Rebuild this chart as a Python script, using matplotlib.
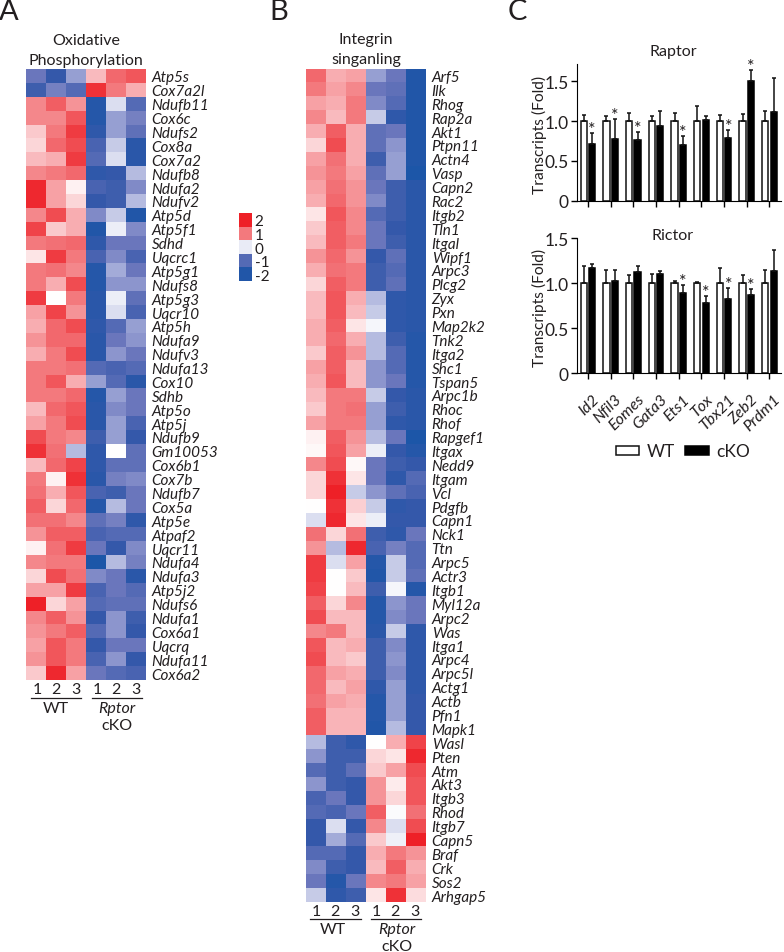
import numpy as np
from matplotlib import pyplot as plt
from matplotlib.colors import LinearSegmentedColormap, Normalize
from matplotlib.transforms import ScaledTranslation

plt.rcParams['font.family'] = ['Lato', 'DejaVu Sans']

# panel A
genes_a = ['Atp5s','Cox7a2l','Ndufb11','Cox6c','Ndufs2','Cox8a','Cox7a2','Ndufb8','Ndufa2','Ndufv2','Atp5d',
           'Atp5f1','Sdhd','Uqcrc1','Atp5g1','Ndufs8','Atp5g3','Uqcr10','Atp5h','Ndufa9','Ndufv3','Ndufa13',
           'Cox10','Sdhb','Atp5o','Atp5j','Ndufb9','Gm10053','Cox6b1','Cox7b','Ndufb7','Cox5a','Atp5e','Atpaf2',
           'Uqcr11','Ndufa4','Ndufa3','Atp5j2','Ndufs6','Ndufa1','Cox6a1','Uqcrq','Ndufa11','Cox6a2']
vals_a = [
    [-1.0,-1.5,-0.6,0.5,1.2,1.4],[-1.4,-0.9,-1.2,1.8,1.0,0.6],[0.9,1.3,0.8,-1.8,-0.2,-1.2],
    [0.9,0.9,1.4,-1.8,-0.6,-0.9],[0.4,1.0,1.7,-1.6,-0.6,-1.1],[0.3,1.2,1.5,-1.3,-0.3,-1.7],
    [0.5,0.6,1.7,-1.2,-0.2,-1.7],[0.9,1.0,1.2,-1.6,-1.5,-0.4],[1.9,0.7,0.1,-1.3,-1.4,-0.8],
    [1.9,0.7,0.3,-1.5,-1.4,-0.4],[0.9,1.5,0.6,-0.8,-0.3,-1.9],[1.6,0.4,0.6,-1.9,-0.1,-0.8],
    [1.0,1.1,1.2,-1.6,-1.0,-1.0],[0.2,1.7,1.0,-1.3,-0.8,-1.3],[1.0,1.1,0.9,-1.8,-0.5,-1.0],
    [1.0,0.6,1.5,-1.8,-0.7,-0.7],[1.7,0.0,1.0,-1.7,-0.1,-1.1],[0.7,1.6,0.8,-1.7,-0.2,-1.3],
    [0.6,1.2,1.5,-1.6,-1.2,-0.6],[0.8,1.2,1.2,-1.7,-1.0,-0.7],[0.6,1.0,1.5,-1.7,-0.7,-1.0],
    [1.0,1.0,1.1,-1.2,-1.3,-1.2],[1.0,1.4,0.6,-0.6,-1.2,-1.7],[1.0,1.0,1.2,-1.8,-0.6,-1.0],
    [0.5,1.2,1.4,-1.7,-0.8,-1.0],[0.7,1.0,1.5,-1.7,-0.6,-1.3],[1.5,1.0,0.9,-1.4,-0.6,-1.5],
    [1.8,1.1,-0.4,-1.6,0.0,-1.1],[0.5,1.2,1.6,-1.6,-1.1,-1.1],[1.0,0.1,1.8,-1.7,-0.9,-0.8],
    [1.1,0.6,1.4,-1.3,-1.4,-1.0],[1.3,0.3,1.2,-1.8,-0.4,-1.0],[1.1,1.1,0.9,-1.1,-0.9,-1.6],
    [0.8,1.3,1.3,-1.3,-1.2,-1.2],[0.1,1.1,1.7,-1.0,-1.5,-0.8],[0.9,1.0,1.0,-2.0,-0.4,-0.9],
    [0.3,1.5,1.1,-0.8,-1.0,-1.7],[0.7,0.7,1.7,-1.3,-1.0,-1.2],[2.0,0.3,0.7,-1.2,-1.1,-1.1],
    [0.9,1.3,0.8,-1.5,-0.7,-1.4],[0.8,1.0,1.3,-1.2,-0.7,-1.5],[0.7,1.4,1.0,-1.5,-1.0,-1.0],
    [0.8,1.4,1.0,-1.3,-0.7,-1.5],[0.4,1.9,0.7,-1.0,-1.2,-1.3]]

# panel B
genes_b = ['Arf5','Ilk','Rhog','Rap2a','Akt1','Ptpn11','Actn4','Vasp','Capn2','Rac2','Itgb2','Tln1','Itgal','Wipf1',
           'Arpc3','Plcg2','Zyx','Pxn','Map2k2','Tnk2','Itga2','Shc1','Tspan5','Arpc1b','Rhoc','Rhof','Rapgef1',
           'Itgax','Nedd9','Itgam','Vcl','Pdgfb','Capn1','Nck1','Ttn','Arpc5','Actr3','Itgb1','Myl12a','Arpc2',
           'Was','Itga1','Arpc4','Arpc5l','Actg1','Actb','Pfn1','Mapk1','Wasl','Pten','Atm','Akt3','Itgb3','Rhod',
           'Itgb7','Capn5','Braf','Crk','Sos2','Arhgap5']
vals_b = [
    [1.2,0.6,0.7,-0.6,-1.0,-1.9],[1.0,0.7,0.9,-1.0,-1.1,-1.9],[0.7,0.6,1.0,-0.8,-1.2,-1.9],
    [0.9,0.5,1.0,-0.3,-1.6,-1.9],[0.6,1.3,0.6,-1.1,-1.0,-1.9],[0.3,1.5,0.6,-1.1,-0.7,-1.9],
    [0.7,1.1,0.6,-1.4,-0.6,-1.9],[0.8,1.0,0.7,-1.1,-0.6,-2.0],[0.7,1.1,0.8,-1.0,-1.4,-1.7],
    [0.6,1.2,0.8,-0.8,-1.4,-1.7],[0.2,1.4,0.9,-1.2,-1.4,-1.7],[0.4,1.3,0.9,-1.0,-1.5,-1.7],
    [0.5,1.3,1.0,-1.0,-1.4,-1.7],[0.8,1.2,0.8,-1.5,-1.1,-1.7],[0.6,1.1,1.0,-1.4,-1.2,-1.7],
    [0.3,1.3,1.0,-1.4,-1.1,-1.7],[0.5,1.4,0.6,-0.4,-1.6,-1.7],[0.5,1.4,0.5,-0.3,-1.6,-1.7],
    [0.6,1.3,0.2,-0.05,-1.6,-1.7],[0.6,1.2,0.6,-0.4,-1.4,-1.8],[0.4,1.3,0.8,-0.4,-1.2,-1.8],
    [0.7,1.3,0.5,-0.7,-1.2,-1.8],[0.6,1.4,0.5,-0.7,-1.0,-1.8],[0.5,1.0,1.0,-0.3,-1.5,-1.7],
    [0.4,1.0,1.1,-0.6,-1.4,-1.7],[0.7,1.0,1.0,-0.6,-1.6,-1.7],[0.1,1.3,0.8,-0.4,-1.0,-2.0],
    [0.05,1.4,0.7,-0.1,-1.5,-1.8],[0.9,1.5,0.05,-1.0,-1.4,-1.5],[0.3,1.8,0.2,-1.0,-1.6,-1.2],
    [0.3,2.0,-0.3,-0.7,-1.1,-1.3],[0.0,1.8,0.35,-0.3,-1.6,-1.5],[-0.2,1.9,0.2,-0.1,-1.5,-1.5],
    [1.1,0.3,1.1,-1.4,-1.6,-1.0],[0.8,-0.4,1.9,-1.3,-0.9,-1.2],[1.7,-0.2,0.7,-1.8,-0.3,-1.2],
    [1.7,0.0,0.4,-1.9,-0.3,-1.1],[1.6,0.0,0.5,-1.4,-0.05,-1.8],[1.3,0.3,0.9,-1.8,-0.7,-1.0],
    [1.5,0.5,0.5,-1.8,-0.8,-1.0],[0.9,1.0,0.5,-1.7,-0.3,-1.6],[1.4,0.5,0.6,-1.4,-0.8,-1.6],
    [1.5,0.5,0.4,-1.4,-0.7,-1.6],[1.2,0.7,0.6,-1.4,-0.8,-1.6],[1.2,0.5,0.7,-1.6,-0.6,-1.6],
    [1.1,0.7,0.6,-1.8,-0.6,-1.5],[1.3,0.55,0.55,-1.8,-0.6,-1.5],[1.3,0.55,0.55,-1.9,-0.4,-1.5],
    [-0.4,-1.4,-1.6,0.0,0.6,1.6],[-0.7,-1.4,-1.4,0.3,0.2,1.9],[-1.2,-1.4,-1.1,0.4,0.7,1.5],
    [-0.7,-1.4,-1.5,0.8,0.15,1.4],[-1.3,-1.0,-1.5,0.8,0.3,1.4],[-1.2,-1.3,-1.0,1.3,-0.02,1.1],
    [-1.5,-0.2,-1.5,0.9,-0.2,1.5],[-1.5,-0.5,-1.2,0.4,-0.08,2.0],[-1.2,-1.2,-1.5,0.6,1.0,0.8],
    [-0.8,-1.4,-1.5,0.5,1.3,0.6],[-1.0,-1.8,-1.0,0.9,1.0,0.7],[-0.3,-1.6,-1.4,0.2,1.8,0.25]]

scale_vals = [2, 1, -0.12, -1.2, -1.9]
scale_labels = ['2', '1', '0', '-1', '-2']

# panel C
tf_names = ['Id2','Nfil3','Eomes','Gata3','Ets1','Tox','Tbx21','Zeb2','Prdm1']
wt_mean = [1, 1, 1, 1, 1, 1, 1, 1, 1]
raptor_wt_top = [1.08,1.06,1.10,1.07,1.10,1.19,1.08,1.09,1.13]
raptor_ko = [0.71,0.77,0.76,0.94,0.70,1.01,0.79,1.50,1.12]
raptor_ko_top = [0.85,1.03,0.86,1.13,0.81,1.06,0.89,1.64,1.54]
raptor_stars = [0,1,2,4,6,7]
rictor_wt_top = [1.19,1.15,1.09,1.10,1.03,1.02,1.17,1.09,1.15]
rictor_ko = [1.17,1.03,1.13,1.10,0.89,0.78,0.83,0.87,1.14]
rictor_ko_top = [1.21,1.15,1.19,1.14,0.98,0.86,0.95,0.94,1.37]
rictor_stars = [4,5,6,7]

W, H = 784, 953
fig = plt.figure(figsize=(W/100, H/100), dpi=100)

cmap = LinearSegmentedColormap.from_list('rwb', [
    (0.0, '#1c56a8'), (0.125, '#3458aa'), (0.25, '#6a76bc'), (0.375, '#a2aad8'), (0.5, '#ffffff'),
    (0.65, '#f8aeb2'), (0.75, '#f37a7e'), (1.0, '#ee2027')])
norm = Normalize(-2, 2)


def px_axes(x0, y0, x1, y1):
    return fig.add_axes([x0/W, 1-y1/H, (x1-x0)/W, (y1-y0)/H])


def txt(x, y, s, size=11.5, **kw):
    kw.setdefault('ha', 'center')
    kw.setdefault('va', 'center')
    kw.setdefault('color', '#231f20')
    fig.text(x/W, 1-y/H, s, fontsize=size, **kw)


def heat(box, genes, vals):
    ax = px_axes(*box)
    ax.pcolormesh(np.array(vals), cmap=cmap, norm=norm)
    ax.invert_yaxis()
    ax.set_xticks([])
    ax.yaxis.tick_right()
    ax.set_yticks(np.arange(len(genes))+0.5)
    ax.set_yticklabels(genes, style='italic', fontsize=11, color='#231f20')
    ax.tick_params(axis='y', length=0, pad=4)
    for s in ax.spines.values():
        s.set_visible(False)
    return ax


def sample_labels(xs, y_num, line1, line2, y_line, y_wt, x_wt, x_ko, y_ko2):
    for x, s in zip(xs, ['1','2','3','1','2','3']):
        txt(x, y_num, s, size=11.5)
    fig.add_artist(plt.Line2D([line1[0]/W, line1[1]/W], [1-y_line/H]*2, color='#231f20', lw=0.9))
    fig.add_artist(plt.Line2D([line2[0]/W, line2[1]/W], [1-y_line/H]*2, color='#231f20', lw=0.9))
    txt(x_wt, y_wt, 'WT', size=11.5)
    txt(x_ko, y_wt, 'Rptor', size=11.5, style='italic')
    txt(x_ko, y_ko2, 'cKO', size=11.5)


heat((26, 70, 146, 681), genes_a, vals_a)
heat((306, 69.5, 426, 903), genes_b, vals_b)

sample_labels([37,56,76,97,116,136], 690, (31,81), (92,142), 699, 709, 56, 117, 726)
sample_labels([316,335,355,376,395,415], 912, (310,361), (371,421), 920, 930, 333, 397, 947)

txt(86, 41, 'Oxidative')
txt(86, 61, 'Phosphorylation')
txt(366, 40, 'Integrin')
txt(366, 60, 'singanling')
txt(9, 12, 'A', size=21)
txt(279, 12, 'B', size=21)
txt(517, 12, 'C', size=21)

# colour scale
ax = px_axes(239, 214, 252, 282)
ax.pcolormesh(np.array(scale_vals).reshape(-1, 1), cmap=cmap, norm=norm)
ax.invert_yaxis()
ax.set_xticks([])
ax.yaxis.tick_right()
ax.set_yticks(np.arange(5)+0.5)
ax.set_yticklabels(scale_labels, fontsize=11, color='#231f20')
ax.tick_params(axis='y', length=0, pad=2)
for s in ax.spines.values():
    s.set_visible(False)


def bars(box, ymax, ko, wt_top, ko_top, stars, yticks):
    ax = px_axes(*box)
    x = np.arange(len(ko))
    off, w = 0.185, 0.27
    wt_err = np.array(wt_top)-np.array(wt_mean)
    ko_err = np.array(ko_top)-np.array(ko)
    ax.bar(x-off, wt_mean, w, color='white', edgecolor='#111111', lw=1.1,
           yerr=[np.zeros(9), wt_err], ecolor='#111111', error_kw=dict(lw=1.1, capsize=1.5, capthick=1.1))
    ax.bar(x+off, ko, w, color='black', edgecolor='black', lw=1.1,
           yerr=[np.zeros(9), ko_err], ecolor='#111111', error_kw=dict(lw=1.1, capsize=1.5, capthick=1.1))
    for i in stars:
        ax.annotate('*', (x[i]+off, ko_top[i]), xytext=(0, -3), textcoords='offset points',
                    ha='center', va='bottom', fontsize=13, color='#231f20')
    ax.set_xlim(-0.485, 8.51)
    ax.set_ylim(0, ymax)
    ax.set_xticks(x)
    ax.set_yticks(yticks)
    ax.set_yticklabels(['0', '0.5', '1.0', '1.5'], fontsize=12.5, color='#231f20')
    ax.tick_params(axis='both', length=4, width=1, pad=2)
    ax.spines['top'].set_visible(False)
    ax.spines['right'].set_visible(False)
    ax.patch.set_visible(False)
    return ax


ax1 = bars((577, 65, 781, 201.7), 1.717, raptor_ko, raptor_wt_top, raptor_ko_top, raptor_stars, [0, 0.5, 1, 1.5])
ax1.set_xticklabels([])
ax2 = bars((577, 239.3, 781, 374.3), 1.5, rictor_ko, rictor_wt_top, rictor_ko_top, rictor_stars, [0, 0.5, 1, 1.5])
ax2.set_xticklabels(tf_names, rotation=45, ha='right', rotation_mode='anchor', style='italic',
                    fontsize=11.5, color='#231f20')
shift = ScaledTranslation(0.04, -0.1, fig.dpi_scale_trans)
for lab in ax2.get_xticklabels():
    lab.set_transform(lab.get_transform() + shift)

txt(673, 52, 'Raptor')
txt(673, 236, 'Rictor')
txt(539, 135, 'Transcripts (Fold)', size=11.2, rotation=90)
txt(539, 308, 'Transcripts (Fold)', size=11.2, rotation=90)

# legend for bars
ax = px_axes(0, 0, W, H)
ax.set_xlim(0, W)
ax.set_ylim(H, 0)
ax.axis('off')
ax.add_patch(plt.Rectangle((616, 447), 23, 9, fc='white', ec='#111111', lw=1.1))
ax.add_patch(plt.Rectangle((685, 447), 24, 9, fc='black', ec='black', lw=1.1))
txt(647, 452, 'WT', size=12.5, ha='left')
txt(716, 452, 'cKO', size=12.5, ha='left')

fig.savefig('out.png', dpi=100)
